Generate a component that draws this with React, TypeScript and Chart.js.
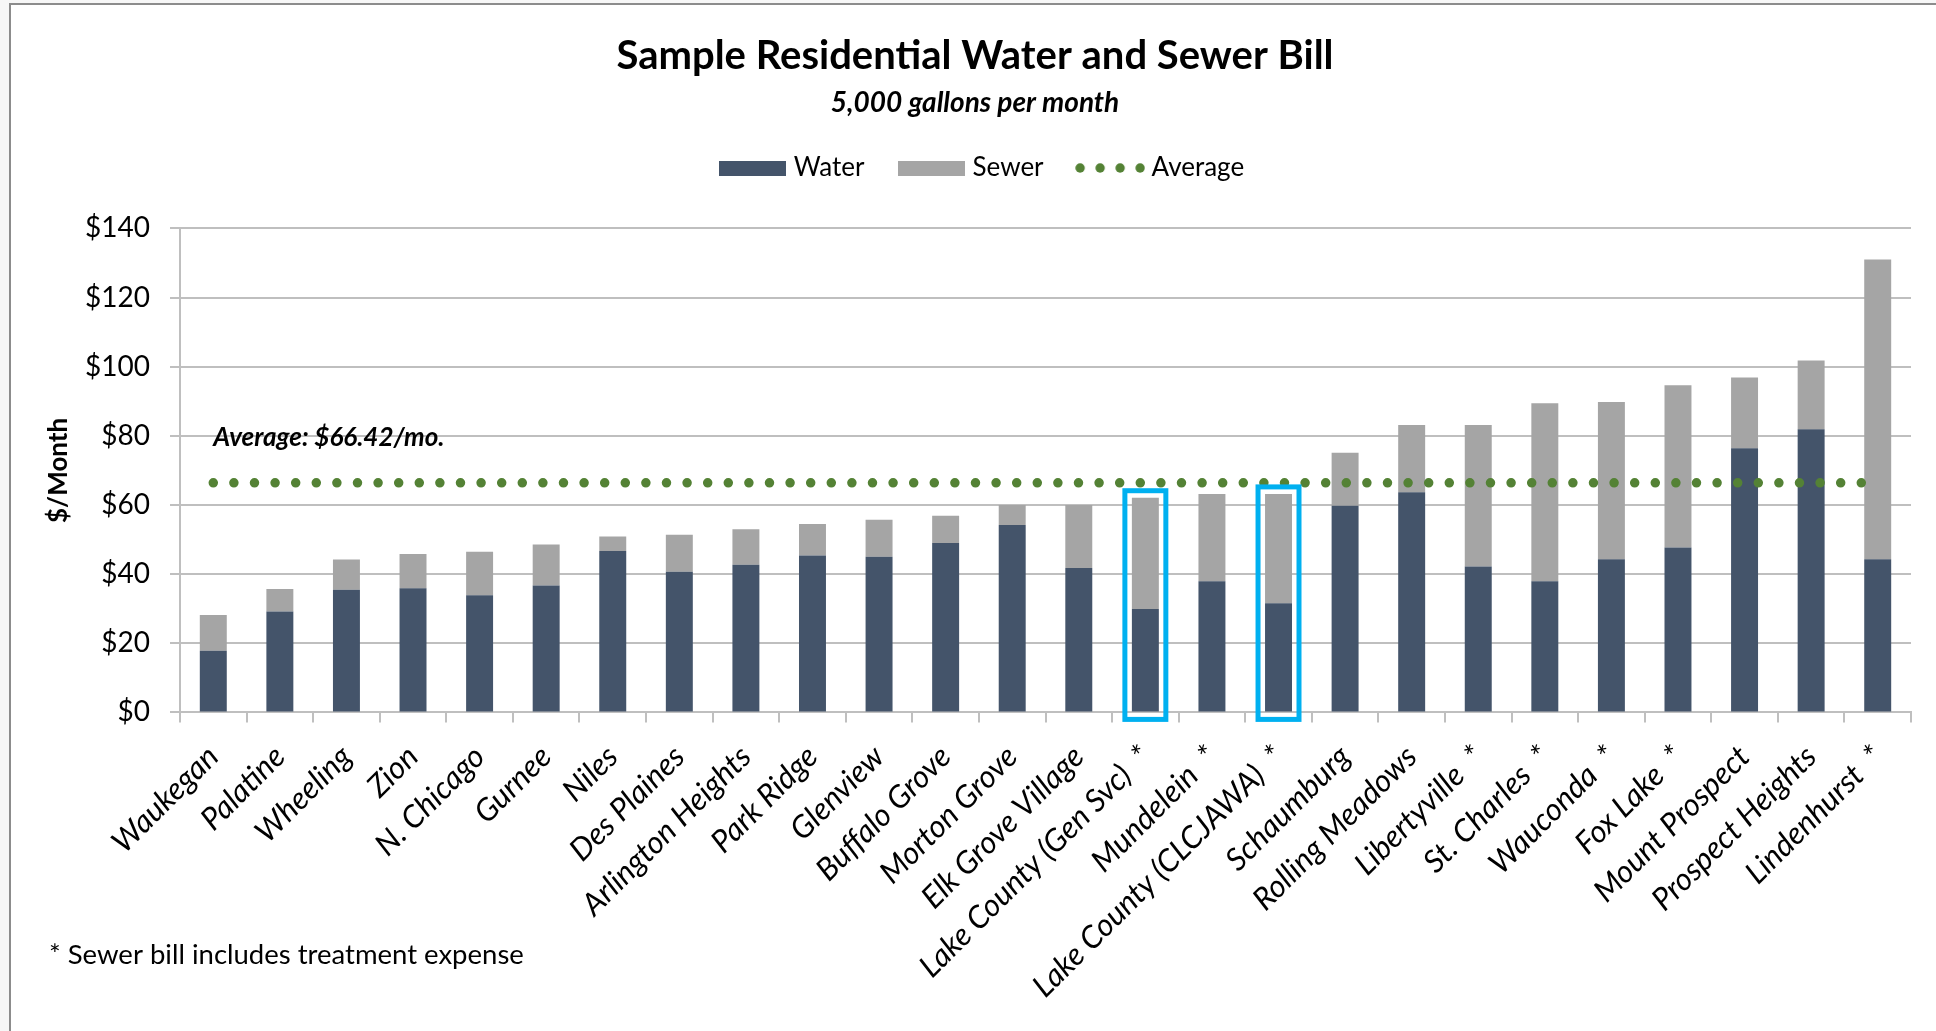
import React, { useEffect, useRef } from 'react';
import { Chart, registerables } from 'chart.js';

Chart.register(...registerables);

const titleText = 'Sample Residential Water and Sewer Bill';
const subtitleText = '5,000 gallons per month';
const yAxisTitle = '$/Month';
const footnoteText = '* Sewer bill includes treatment expense';
const averageLabel = 'Average: $66.42/mo.';
const averageLabelAt = 79.5;

const categories = [
  'Waukegan', 'Palatine', 'Wheeling', 'Zion', 'N. Chicago', 'Gurnee', 'Niles', 'Des Plaines',
  'Arlington Heights', 'Park Ridge', 'Glenview', 'Buffalo Grove', 'Morton Grove', 'Elk Grove Village',
  'Lake County (Gen Svc)  *', 'Mundelein  *', 'Lake County (CLCJAWA)  *', 'Schaumburg', 'Rolling Meadows',
  'Libertyville  *', 'St. Charles  *', 'Wauconda  *', 'Fox Lake  *', 'Mount Prospect',
  'Prospect Heights', 'Lindenhurst  *',
];

const waterValues = [
  17.8, 29.2, 35.5, 35.9, 33.9, 36.7, 46.7, 40.7, 42.7, 45.4, 45.0, 49.0, 54.2, 41.8,
  29.9, 37.9, 31.6, 59.8, 63.7, 42.2, 37.9, 44.3, 47.7, 76.4, 81.9, 44.3,
];

const sewerValues = [
  10.4, 6.5, 8.7, 9.9, 12.6, 11.9, 4.2, 10.7, 10.3, 9.1, 10.7, 7.9, 5.8, 18.2,
  32.2, 25.3, 31.6, 15.3, 19.4, 40.9, 51.5, 45.5, 46.9, 20.5, 19.9, 86.7,
];

const averageValues = [
  66.42, 66.42, 66.42, 66.42, 66.42, 66.42, 66.42, 66.42, 66.42, 66.42, 66.42, 66.42, 66.42,
  66.42, 66.42, 66.42, 66.42, 66.42, 66.42, 66.42, 66.42, 66.42, 66.42, 66.42, 66.42, 66.42,
];

const highlightedCategories = ['Lake County (Gen Svc)  *', 'Lake County (CLCJAWA)  *'];

const yMin = 0;
const yMax = 140;
const yStep = 20;

const WATER = '#44546A';
const SEWER = '#A5A5A5';
const GREEN = '#548235';
const HIGHLIGHT = '#00B0F0';
const GRID = '#BFBFBF';
const FONT = 'Lato';

function swatch(color: string) {
  const c = document.createElement('canvas');
  c.width = 67;
  c.height = 15;
  const g = c.getContext('2d');
  if (g) {
    g.fillStyle = color;
    g.fillRect(0, 0, 67, 15);
  }
  return c;
}

export default function App() {
  const ref = useRef<HTMLCanvasElement>(null);

  useEffect(() => {
    const canvas = ref.current;
    if (!canvas) return;

    const dots = document.createElement('canvas');
    dots.width = 70;
    dots.height = 12;
    const dctx = dots.getContext('2d');
    if (dctx) {
      dctx.fillStyle = GREEN;
      for (let i = 0; i < 4; i++) {
        dctx.beginPath();
        dctx.arc(5 + i * 20, 6, 4.7, 0, Math.PI * 2);
        dctx.fill();
      }
    }
    const waterSwatch = swatch(WATER);
    const sewerSwatch = swatch(SEWER);

    const legendSpacer = {
      id: 'legendSpacer',
      beforeInit(chart: any) {
        const legend = chart.legend;
        if (!legend) return;
        const fit = legend.fit;
        legend.fit = function () {
          fit.call(this);
          this.height += 37.4;
          if (this.lineWidths && this.lineWidths.length) this.lineWidths[0] -= 18;
        };
      },
    };

    const frame = {
      id: 'frame',
      beforeDraw(chart: any) {
        const { ctx, width, height } = chart;
        ctx.save();
        ctx.fillStyle = '#f7f7f7';
        ctx.fillRect(0, 0, width, height);
        ctx.fillStyle = '#ffffff';
        ctx.fillRect(11, 5, width - 11, height - 5);
        ctx.strokeStyle = '#8c8c8c';
        ctx.lineWidth = 2;
        ctx.beginPath();
        ctx.moveTo(10, height);
        ctx.lineTo(10, 4);
        ctx.lineTo(width, 4);
        ctx.stroke();
        ctx.restore();
      },
    };

    const overlay = {
      id: 'overlay',
      afterDatasetsDraw(chart: any) {
        const { ctx } = chart;
        const meta = chart.getDatasetMeta(1);
        const yScale = chart.scales.y;
        const base = yScale.getPixelForValue(0);
        ctx.save();
        ctx.strokeStyle = HIGHLIGHT;
        ctx.lineWidth = 5;
        highlightedCategories.forEach((name) => {
          const idx = categories.indexOf(name);
          const bar = meta.data[idx];
          if (!bar) return;
          const pad = 7;
          const left = bar.x - bar.width / 2 - pad;
          const right = bar.x + bar.width / 2 + pad;
          const top = bar.y - pad;
          const bottom = base + pad;
          ctx.strokeRect(left, top, right - left, bottom - top);
        });
        ctx.restore();
      },
      afterDraw(chart: any) {
        const { ctx } = chart;
        const xScale = chart.scales.x;
        const yScale = chart.scales.y;
        ctx.save();
        ctx.fillStyle = '#000';
        ctx.font = `italic bold 26px ${FONT}`;
        ctx.textAlign = 'left';
        ctx.textBaseline = 'middle';
        ctx.fillText(averageLabel, xScale.getPixelForValue(0), yScale.getPixelForValue(averageLabelAt));
        ctx.font = `27.5px ${FONT}`;
        ctx.fillText(footnoteText, 49, 955);
        ctx.restore();
      },
    };

    const chart = new Chart(canvas, {
      type: 'bar',
      data: {
        labels: categories,
        datasets: [
          {
            type: 'bar',
            label: 'Water',
            data: waterValues,
            backgroundColor: WATER,
            stack: 'bill',
            order: 2,
            barPercentage: 0.9,
            categoryPercentage: 0.45,
          },
          {
            type: 'bar',
            label: 'Sewer',
            data: sewerValues,
            backgroundColor: SEWER,
            stack: 'bill',
            order: 2,
            barPercentage: 0.9,
            categoryPercentage: 0.45,
          },
          {
            type: 'line',
            label: 'Average',
            data: averageValues,
            borderColor: GREEN,
            backgroundColor: GREEN,
            borderWidth: 9.5,
            borderDash: [0, 20.6],
            borderCapStyle: 'round',
            pointRadius: 0,
            stack: 'avg',
            order: 0,
          } as any,
        ],
      },
      options: {
        responsive: true,
        maintainAspectRatio: false,
        animation: false,
        layout: { padding: { left: 39, right: 25, top: 0, bottom: 0 } },
        plugins: {
          title: {
            display: true,
            text: titleText,
            color: '#000',
            font: { family: FONT, size: 40, weight: 'bold' },
            padding: { top: 32, bottom: 0 },
          },
          subtitle: {
            display: true,
            text: subtitleText,
            color: '#000',
            font: { family: FONT, size: 28, weight: 'bold', style: 'italic', lineHeight: 1 },
            padding: { top: 9, bottom: 0 },
          },
          legend: {
            display: true,
            position: 'top',
            labels: {
              usePointStyle: true,
              pointStyleWidth: 57,
              boxHeight: 15,
              padding: 38,
              color: '#000',
              font: { family: FONT, size: 26 },
              generateLabels: () => [
                { text: 'Water', fillStyle: WATER, strokeStyle: WATER, lineWidth: 0, pointStyle: waterSwatch, datasetIndex: 0, hidden: false },
                { text: 'Sewer', fillStyle: SEWER, strokeStyle: SEWER, lineWidth: 0, pointStyle: sewerSwatch, datasetIndex: 1, hidden: false },
                { text: 'Average', fillStyle: GREEN, strokeStyle: GREEN, lineWidth: 0, pointStyle: dots, datasetIndex: 2, hidden: false },
              ] as any,
            },
          },
          tooltip: { enabled: false },
        },
        scales: {
          x: {
            stacked: true,
            offset: true,
            grid: {
              display: true,
              drawOnChartArea: false,
              drawTicks: true,
              tickLength: 10,
              color: GRID,
              lineWidth: 2,
              offset: true,
            },
            border: { display: true, color: GRID, width: 2 },
            ticks: {
              autoSkip: false,
              maxRotation: 45,
              minRotation: 45,
              color: '#000',
              padding: 16,
              font: { family: FONT, size: 31, style: 'italic' },
            },
            afterFit: (scale: any) => {
              scale.height = 318.6;
            },
          },
          y: {
            stacked: true,
            min: yMin,
            max: yMax,
            ticks: {
              stepSize: yStep,
              color: '#000',
              padding: 20,
              font: { family: FONT, size: 28 },
              callback: (v: any) => '$' + v,
            },
            grid: { color: GRID, lineWidth: 2, tickLength: 10, drawTicks: true },
            border: { display: true, color: GRID, width: 2 },
            title: {
              display: true,
              text: yAxisTitle,
              color: '#000',
              font: { family: FONT, size: 26, weight: 'bold' },
              padding: { top: 4.4, bottom: 0 },
            },
            afterFit: (scale: any) => {
              scale.width = 141;
            },
          },
        },
      },
      plugins: [legendSpacer, frame, overlay],
    });

    return () => chart.destroy();
  }, []);

  return (
    <div style={{ position: 'fixed', left: 0, top: 0, width: 1936, height: 1031, background: '#fff' }}>
      <canvas ref={ref} />
    </div>
  );
}
